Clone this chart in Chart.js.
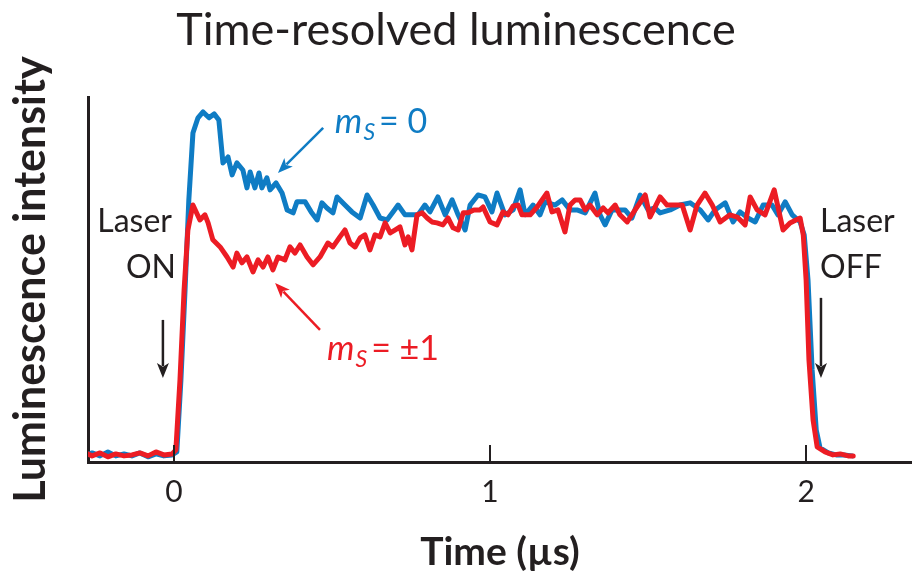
<!DOCTYPE html>
<html><head><meta charset="utf-8">
<script src="https://cdn.jsdelivr.net/npm/chart.js@4.4.0/dist/chart.umd.min.js"></script>
<style>html,body{margin:0;padding:0;background:#fff;}</style>
</head><body>
<canvas id="c" width="912" height="576"></canvas>
<script>
// ---- data (time in µs, intensity in arbitrary units, baseline = 0, plateau ≈ 1) ----
const blueTime = [-0.282,-0.259,-0.234,-0.209,-0.184,-0.158,-0.133,-0.108,-0.082,-0.057,-0.032,-0.006,0.009,0.022,0.035,0.047,0.060,0.076,0.092,0.111,0.127,0.142,0.155,0.171,0.184,0.199,0.218,0.231,0.241,0.256,0.269,0.278,0.294,0.304,0.323,0.342,0.358,0.377,0.389,0.415,0.434,0.453,0.468,0.484,0.503,0.516,0.541,0.563,0.589,0.611,0.630,0.652,0.674,0.693,0.709,0.731,0.753,0.772,0.794,0.810,0.835,0.858,0.880,0.899,0.921,0.937,0.962,0.984,1.006,1.022,1.047,1.073,1.095,1.111,1.136,1.158,1.174,1.206,1.228,1.253,1.275,1.301,1.332,1.348,1.364,1.386,1.411,1.427,1.449,1.475,1.500,1.522,1.538,1.570,1.601,1.633,1.665,1.690,1.712,1.744,1.769,1.791,1.816,1.839,1.864,1.892,1.911,1.934,1.956,1.981,1.994,2.006,2.019,2.032,2.044,2.070,2.095,2.120,2.146];
const blueIntensity = [-0.004,0.008,-0.004,0.012,-0.004,0.004,-0.004,0.008,-0.008,0.004,-0.004,0.000,0.012,0.306,0.673,1.041,1.314,1.376,1.400,1.376,1.392,1.367,1.192,1.216,1.143,1.192,1.163,1.090,1.155,1.090,1.151,1.090,1.131,1.082,1.110,1.069,1.000,0.988,1.033,1.033,0.992,0.959,1.029,1.008,0.988,1.053,1.020,0.992,0.967,1.061,1.020,0.967,0.959,0.992,1.020,0.980,0.980,0.980,1.020,0.992,1.053,0.980,1.041,0.980,0.918,1.020,1.061,1.053,0.992,1.069,0.980,1.000,1.082,0.980,1.020,0.980,1.033,1.020,1.041,1.000,1.000,0.988,1.069,0.980,0.939,1.000,1.000,1.000,0.967,1.061,1.000,1.008,0.988,1.000,1.020,1.029,1.000,0.959,1.000,1.029,0.951,0.992,0.967,0.951,1.020,1.020,0.980,1.033,0.980,0.951,0.898,0.714,0.347,0.102,0.029,0.008,0.000,0.000,-0.004];
const redTime = [-0.285,-0.259,-0.234,-0.209,-0.184,-0.158,-0.133,-0.108,-0.082,-0.057,-0.032,-0.006,0.006,0.019,0.032,0.044,0.060,0.082,0.098,0.108,0.123,0.146,0.168,0.187,0.199,0.215,0.231,0.250,0.266,0.282,0.297,0.313,0.329,0.351,0.367,0.383,0.399,0.421,0.440,0.462,0.487,0.503,0.525,0.541,0.557,0.573,0.589,0.604,0.620,0.636,0.652,0.668,0.684,0.699,0.715,0.731,0.741,0.753,0.769,0.785,0.801,0.816,0.832,0.851,0.867,0.883,0.899,0.915,0.930,0.949,0.968,0.978,1.000,1.022,1.041,1.057,1.073,1.089,1.101,1.127,1.149,1.180,1.196,1.215,1.237,1.253,1.269,1.285,1.301,1.316,1.339,1.358,1.373,1.396,1.411,1.434,1.459,1.491,1.506,1.538,1.560,1.608,1.633,1.655,1.680,1.703,1.728,1.759,1.782,1.807,1.823,1.845,1.870,1.899,1.927,1.949,1.981,1.991,2.000,2.009,2.022,2.035,2.060,2.085,2.108,2.133,2.149];
const redIntensity = [0.012,-0.004,0.008,-0.008,0.004,-0.004,0.000,0.008,-0.004,0.012,0.000,0.004,0.020,0.306,0.673,0.918,1.020,0.959,0.980,0.947,0.878,0.849,0.808,0.767,0.824,0.784,0.808,0.747,0.796,0.767,0.808,0.755,0.808,0.796,0.849,0.824,0.857,0.808,0.776,0.808,0.865,0.849,0.890,0.918,0.865,0.849,0.886,0.898,0.837,0.898,0.890,0.947,0.906,0.918,0.931,0.857,0.890,0.837,0.980,0.988,0.967,0.951,0.947,0.939,0.967,0.927,0.918,0.988,0.988,1.000,1.000,1.012,0.951,0.939,0.992,0.980,1.016,1.020,0.980,0.980,1.012,1.069,0.992,1.000,0.910,1.020,1.041,1.041,1.000,1.020,0.980,1.008,0.988,1.020,0.980,0.951,1.000,1.061,0.971,1.053,1.020,1.020,0.918,1.020,1.069,1.020,0.951,0.980,0.971,0.939,1.053,1.000,0.980,1.082,0.918,0.947,0.967,0.898,0.714,0.388,0.143,0.033,0.012,0.000,0.004,-0.004,-0.004];
const xTickValues = [0, 1, 2];
const xTickLabels = ['0', '1', '2'];
const seriesNames = ['m_S = 0', 'm_S = ±1'];

// ---- styles ----
const BLUE = '#0f7cc4';
const RED = '#ec1c24';
const INK = '#231f20';
const FONT = 'Lato';

// annotation anchors in data units (µs, intensity)
const notes = {
  laserOn:  { t: 0.0,   vLaser: 0.951, vState: 0.763, arrowT: -0.035, arrowFrom: 0.551, arrowTo: 0.314 },
  laserOff: { t: 2.044, vLaser: 0.951, vState: 0.763, arrowT: 2.047, arrowFrom: 0.641, arrowTo: 0.314 },
  ms0:  { t: 0.509, v: 1.314, from: [0.472, 1.335], to: [0.329, 1.151] },
  ms1:  { t: 0.484, v: 0.388, from: [0.462, 0.510], to: [0.320, 0.702] }
};

function arrow(ctx, x1, y1, x2, y2, color) {
  const ang = Math.atan2(y2 - y1, x2 - x1);
  const head = 15, half = 6;
  ctx.save();
  ctx.strokeStyle = color; ctx.fillStyle = color; ctx.lineWidth = 2.5;
  ctx.beginPath();
  ctx.moveTo(x1, y1);
  ctx.lineTo(x2 - Math.cos(ang) * head * 0.8, y2 - Math.sin(ang) * head * 0.8);
  ctx.stroke();
  ctx.beginPath();
  ctx.moveTo(x2, y2);
  ctx.lineTo(x2 - Math.cos(ang) * head - Math.sin(ang) * half, y2 - Math.sin(ang) * head + Math.cos(ang) * half);
  ctx.lineTo(x2 - Math.cos(ang) * head * 0.75, y2 - Math.sin(ang) * head * 0.75);
  ctx.lineTo(x2 - Math.cos(ang) * head + Math.sin(ang) * half, y2 - Math.sin(ang) * head - Math.cos(ang) * half);
  ctx.closePath();
  ctx.fill();
  ctx.restore();
}

function msLabel(ctx, x, y, color, rest) {
  ctx.save();
  ctx.fillStyle = color;
  ctx.textBaseline = 'alphabetic';
  ctx.textAlign = 'left';
  ctx.font = 'italic 35px ' + FONT;
  ctx.fillText('m', x, y);
  let w = ctx.measureText('m').width;
  ctx.font = 'italic 23px ' + FONT;
  ctx.fillText('S', x + w + 1, y + 7);
  w += ctx.measureText('S').width + 5;
  ctx.font = '34px ' + FONT;
  ctx.fillText(rest, x + w, y);
  ctx.restore();
}

const annotationPlugin = {
  id: 'annotations',
  afterDraw(chart) {
    const ctx = chart.ctx;
    const xs = chart.scales.x, ys = chart.scales.y;
    const area = chart.chartArea;
    // inward tick marks on the time axis
    ctx.save();
    ctx.strokeStyle = INK; ctx.lineWidth = 2;
    xs.ticks.forEach(tk => {
      const px = Math.round(xs.getPixelForValue(tk.value));
      ctx.beginPath();
      ctx.moveTo(px, area.bottom);
      ctx.lineTo(px, area.bottom - 17);
      ctx.stroke();
    });
    ctx.restore();

    ctx.save();
    ctx.fillStyle = INK;
    ctx.font = '32px ' + FONT;
    ctx.textBaseline = 'middle';
    ctx.textAlign = 'right';
    ctx.fillText('Laser', xs.getPixelForValue(notes.laserOn.t) - 2, ys.getPixelForValue(notes.laserOn.vLaser));
    ctx.fillText('ON', xs.getPixelForValue(notes.laserOn.t) + 2, ys.getPixelForValue(notes.laserOn.vState));
    ctx.textAlign = 'left';
    ctx.fillText('Laser', xs.getPixelForValue(notes.laserOff.t), ys.getPixelForValue(notes.laserOff.vLaser));
    ctx.fillText('OFF', xs.getPixelForValue(notes.laserOff.t), ys.getPixelForValue(notes.laserOff.vState));
    ctx.restore();

    arrow(ctx, xs.getPixelForValue(notes.laserOn.arrowT), ys.getPixelForValue(notes.laserOn.arrowFrom),
               xs.getPixelForValue(notes.laserOn.arrowT), ys.getPixelForValue(notes.laserOn.arrowTo), INK);
    arrow(ctx, xs.getPixelForValue(notes.laserOff.arrowT), ys.getPixelForValue(notes.laserOff.arrowFrom),
               xs.getPixelForValue(notes.laserOff.arrowT), ys.getPixelForValue(notes.laserOff.arrowTo), INK);

    msLabel(ctx, xs.getPixelForValue(notes.ms0.t), ys.getPixelForValue(notes.ms0.v), BLUE, '= 0');
    msLabel(ctx, xs.getPixelForValue(notes.ms1.t), ys.getPixelForValue(notes.ms1.v), RED, '= ±1');
    arrow(ctx, xs.getPixelForValue(notes.ms0.from[0]), ys.getPixelForValue(notes.ms0.from[1]),
               xs.getPixelForValue(notes.ms0.to[0]), ys.getPixelForValue(notes.ms0.to[1]), BLUE);
    arrow(ctx, xs.getPixelForValue(notes.ms1.from[0]), ys.getPixelForValue(notes.ms1.from[1]),
               xs.getPixelForValue(notes.ms1.to[0]), ys.getPixelForValue(notes.ms1.to[1]), RED);
  }
};

const toPoints = (ts, vs) => ts.map((t, i) => ({ x: t, y: vs[i] }));

new Chart(document.getElementById('c'), {
  type: 'line',
  data: {
    datasets: [
      { label: seriesNames[1], data: toPoints(redTime, redIntensity), borderColor: RED, borderWidth: 5,
        pointRadius: 0, tension: 0, borderJoinStyle: 'round', borderCapStyle: 'round', fill: false, order: 0 },
      { label: seriesNames[0], data: toPoints(blueTime, blueIntensity), borderColor: BLUE, borderWidth: 5,
        pointRadius: 0, tension: 0, borderJoinStyle: 'round', borderCapStyle: 'round', fill: false, order: 1 }
    ]
  },
  options: {
    responsive: false,
    animation: false,
    devicePixelRatio: 1,
    layout: { padding: 0 },
    plugins: {
      legend: { display: false },
      tooltip: { enabled: false },
      title: {
        display: true,
        text: 'Time-resolved luminescence',
        color: INK,
        font: { family: FONT, size: 45, weight: 'normal', lineHeight: 1.2 },
        padding: { top: 3, bottom: 40 }
      }
    },
    scales: {
      x: {
        type: 'linear',
        min: -0.272, max: 2.335,
        afterBuildTicks: s => { s.ticks = xTickValues.map(v => ({ value: v })); },
        afterFit: s => { s.height = 114; },
        ticks: {
          autoSkip: false, maxRotation: 0,
          callback: v => xTickLabels[xTickValues.indexOf(v)],
          color: INK, font: { family: FONT, size: 30 }, padding: 12
        },
        grid: { display: false, drawTicks: false },
        border: { display: true, color: INK, width: 3 },
        title: { display: true, text: 'Time (µs)', color: INK,
                 font: { family: FONT, size: 39, weight: 'bold', lineHeight: 1.2 }, padding: { top: 0, bottom: 0 } }
      },
      y: {
        type: 'linear',
        min: -0.029, max: 1.461,
        afterFit: s => { s.width = 88; },
        ticks: { display: false },
        grid: { display: false, drawTicks: false },
        border: { display: true, color: INK, width: 3 },
        title: { display: true, text: 'Luminescence intensity', color: INK,
                 font: { family: FONT, size: 43, weight: 'bold', lineHeight: 1.2 }, padding: { top: 5, bottom: 0 } }
      }
    }
  },
  plugins: [annotationPlugin]
});
</script>
</body></html>
